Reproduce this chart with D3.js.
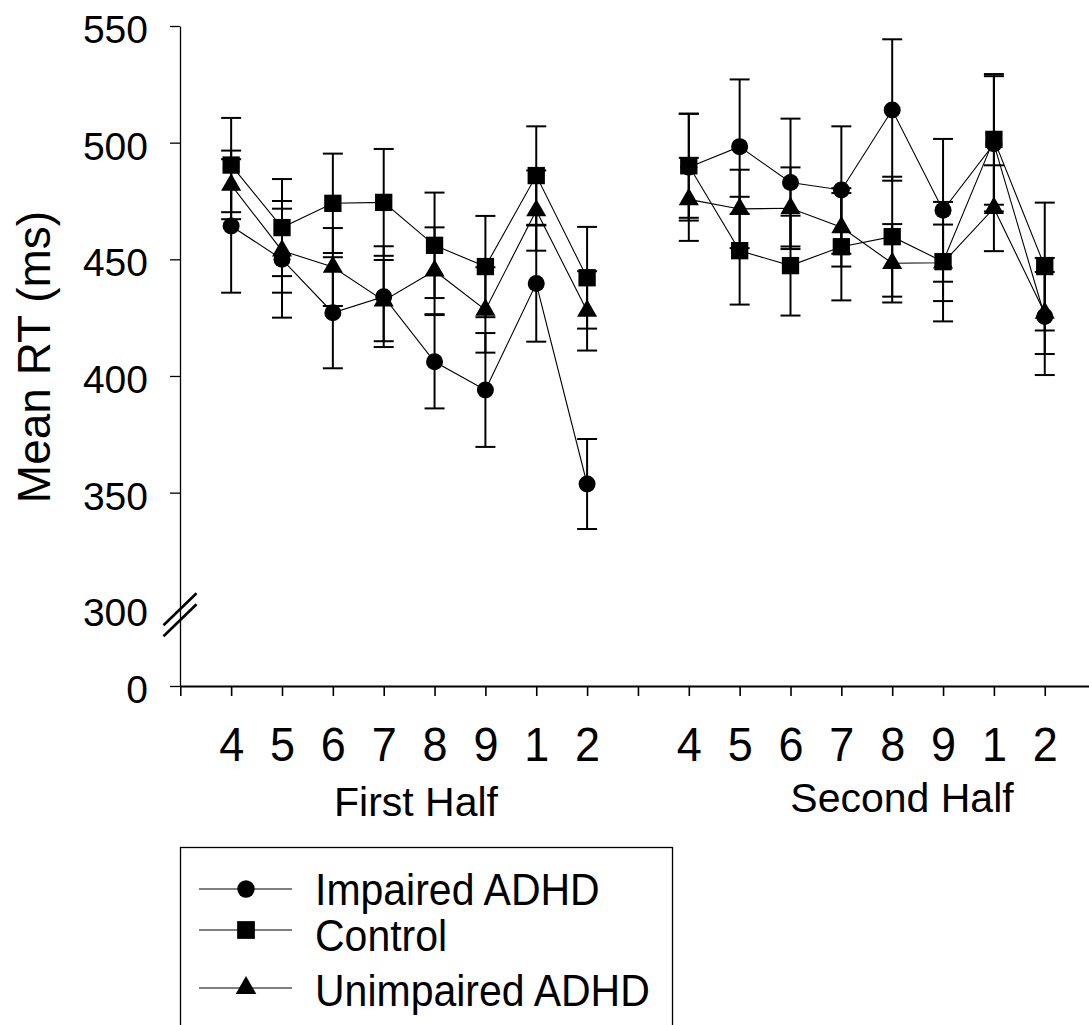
<!DOCTYPE html>
<html>
<head>
<meta charset="utf-8">
<script src="https://cdn.jsdelivr.net/npm/d3@7"></script>
<style>
  body { margin: 0; background: #fff; }
  text { font-family: "Liberation Sans", Arial, Helvetica, sans-serif; fill: #000; }
</style>
</head>
<body>
<div id="chart"></div>
<script>
// categories (trial blocks) and group names
const monthLabels = ["4", "5", "6", "7", "8", "9", "1", "2"];
const halfNames = ["First Half", "Second Half"];
const seriesNames = ["Impaired ADHD", "Control", "Unimpaired ADHD"];
const yTickValues = [0, 300, 350, 400, 450, 500, 550];

// mean RT, first half then second half (8 + 8)
const impairedMean = [464.3, 450.0, 427.1, 434.0, 406.1, 394.0, 439.6, 353.7,
                      489.5, 498.3, 482.9, 479.7, 514.0, 471.0, 499.5, 425.5];
const impairedErr  = [28.6, 25.0, 23.8, 21.6, 20.0, 24.4, 24.9, 19.3,
                      22.9, 28.8, 27.4, 27.3, 30.3, 30.6, 29.0, 25.1];

const controlMean  = [490.4, 463.6, 474.0, 474.4, 456.0, 446.9, 485.9, 442.1,
                      490.1, 453.7, 447.3, 455.4, 459.7, 449.0, 501.4, 446.9];
const controlErr   = [20.2, 20.8, 21.3, 22.9, 22.6, 21.7, 21.1, 21.8,
                      22.3, 23.1, 21.4, 23.0, 25.7, 25.6, 28.0, 27.4];

const unimpairedMean = [481.9, 453.7, 446.7, 432.3, 445.1, 428.3, 470.9, 427.9,
                        475.7, 471.6, 471.9, 463.7, 448.3, 448.5, 471.9, 427.0];
const unimpairedErr  = [14.7, 18.0, 16.7, 17.4, 18.6, 18.3, 17.2, 17.0,
                        17.8, 16.8, 17.5, 16.8, 16.8, 16.4, 18.4, 17.6];

let config = {
  div: '#chart',
  width: 1089,
  height: 1025,
  axisX: 180,
  axisY: 686,
  top: 26,
  step: 50.85
};

// slot on the x axis: 1..8 for the first half, 10..17 for the second
function slot(i) { return i < 8 ? i + 1 : i + 2; }

const series = [
  { name: seriesNames[0], mean: impairedMean, err: impairedErr, symbol: d3.symbolCircle, size: 227 },
  { name: seriesNames[1], mean: controlMean, err: controlErr, symbol: d3.symbolSquare, size: 300 },
  { name: seriesNames[2], mean: unimpairedMean, err: unimpairedErr, symbol: d3.symbolTriangle, size: 175 }
];

const svg = d3.select(config.div)
  .append('svg')
  .attr('width', config.width)
  .attr('height', config.height);

const x = d3.scaleLinear()
  .domain([0, 18])
  .range([config.axisX + 0.3, config.axisX + 0.3 + 18 * config.step]);

// broken axis: 0 .. 300 squeezed, 300 .. 550 linear
const y = d3.scaleLinear()
  .domain([0, 300, 550])
  .range([config.axisY, 609.3, config.top]);

// Y axis
let yAxis = svg.append('g')
  .attr('transform', `translate(${config.axisX},0)`)
  .call(d3.axisLeft(y).tickValues(yTickValues).tickSize(10).tickSizeOuter(0).tickPadding(22));
yAxis.select('.domain').attr('stroke-width', 1.3);
yAxis.selectAll('.tick line').attr('stroke-width', 1.3);
yAxis.selectAll('.tick').filter(d => d === 300).select('line').remove();
yAxis.selectAll('.tick text')
  .attr('font-size', 39)
  .attr('dy', '0.42em')
  .style('font-family', '"Liberation Sans", Arial, sans-serif');

// break marks
const by = y(300);
[0, 11].forEach(off => {
  svg.append('line')
    .attr('x1', config.axisX - 16.5).attr('y1', by + off + 16)
    .attr('x2', config.axisX + 16.5).attr('y2', by + off - 16)
    .attr('stroke', '#000').attr('stroke-width', 2.6);
});

// X axis
let xAxis = svg.append('g')
  .attr('transform', `translate(0,${config.axisY})`)
  .call(d3.axisBottom(x).tickValues(d3.range(18)).tickSize(10).tickSizeOuter(0).tickFormat(''));
xAxis.select('.domain').attr('stroke-width', 2.2);
xAxis.selectAll('.tick line').attr('stroke-width', 1.6);

// month labels under the ticks
const slots = d3.range(16).map(slot);
let labelAxis = svg.append('g')
  .attr('transform', `translate(0,${config.axisY})`)
  .call(d3.axisBottom(x).tickValues(slots).tickSize(0).tickFormat((d, i) => monthLabels[i % 8]));
labelAxis.select('.domain').remove();
labelAxis.selectAll('.tick text')
  .attr('y', 0).attr('dy', 0)
  .attr('transform', 'translate(0,75) scale(1,1.06)')
  .attr('font-size', 45)
  .style('font-family', '"Liberation Sans", Arial, sans-serif');

svg.append('text').attr('x', 416).attr('y', 816).attr('text-anchor', 'middle')
  .attr('font-size', 41).text(halfNames[0]);
svg.append('text').attr('x', 902).attr('y', 812).attr('text-anchor', 'middle')
  .attr('font-size', 41).text(halfNames[1]);

// Y label
svg.append('text')
  .attr('transform', 'translate(50,357) rotate(-90)')
  .attr('text-anchor', 'middle')
  .attr('font-size', 46)
  .text('Mean RT (ms)');

// connecting lines, one per half
const line = d3.line().x(d => x(d.s)).y(d => y(d.v));
series.forEach(s => {
  const pts = s.mean.map((v, i) => ({ s: slot(i), v: v }));
  [pts.slice(0, 8), pts.slice(8)].forEach(part => {
    svg.append('path')
      .attr('d', line(part))
      .attr('fill', 'none')
      .attr('stroke', '#000')
      .attr('stroke-width', 1.1);
  });
});

// error bars
series.forEach(s => {
  s.mean.forEach((v, i) => {
    const cx = x(slot(i));
    const hi = y(v + s.err[i]), lo = y(v - s.err[i]);
    const g = svg.append('g').attr('stroke', '#000').attr('stroke-width', 2);
    g.append('line').attr('x1', cx).attr('x2', cx).attr('y1', hi).attr('y2', lo);
    g.append('line').attr('x1', cx - 10).attr('x2', cx + 10).attr('y1', hi).attr('y2', hi);
    g.append('line').attr('x1', cx - 10).attr('x2', cx + 10).attr('y1', lo).attr('y2', lo);
  });
});

// markers
series.forEach(s => {
  svg.append('g').selectAll('path')
    .data(s.mean)
    .enter()
    .append('path')
    .attr('d', d3.symbol().type(s.symbol).size(s.size))
    .attr('transform', (v, i) => `translate(${x(slot(i))},${y(v)})`)
    .attr('fill', '#000');
});

// legend (box runs off the bottom edge)
const legend = svg.append('g');
legend.append('rect')
  .attr('x', 180.5).attr('y', 847.5)
  .attr('width', 492).attr('height', 220)
  .attr('fill', 'none').attr('stroke', '#000').attr('stroke-width', 1.3);

const rowY = [889, 930, 988];
const textY = [905, 951, 1006];
series.forEach((s, i) => {
  legend.append('line')
    .attr('x1', 199).attr('x2', 292)
    .attr('y1', rowY[i]).attr('y2', rowY[i])
    .attr('stroke', '#000').attr('stroke-width', 1.1);
  legend.append('path')
    .attr('d', d3.symbol().type(s.symbol).size(s.size * 1.05))
    .attr('transform', `translate(246,${rowY[i]})`)
    .attr('fill', '#000');
  legend.append('text')
    .attr('transform', `translate(315,${textY[i]}) scale(1,1.1)`)
    .attr('font-size', 41)
    .text(s.name);
});
</script>
</body>
</html>
